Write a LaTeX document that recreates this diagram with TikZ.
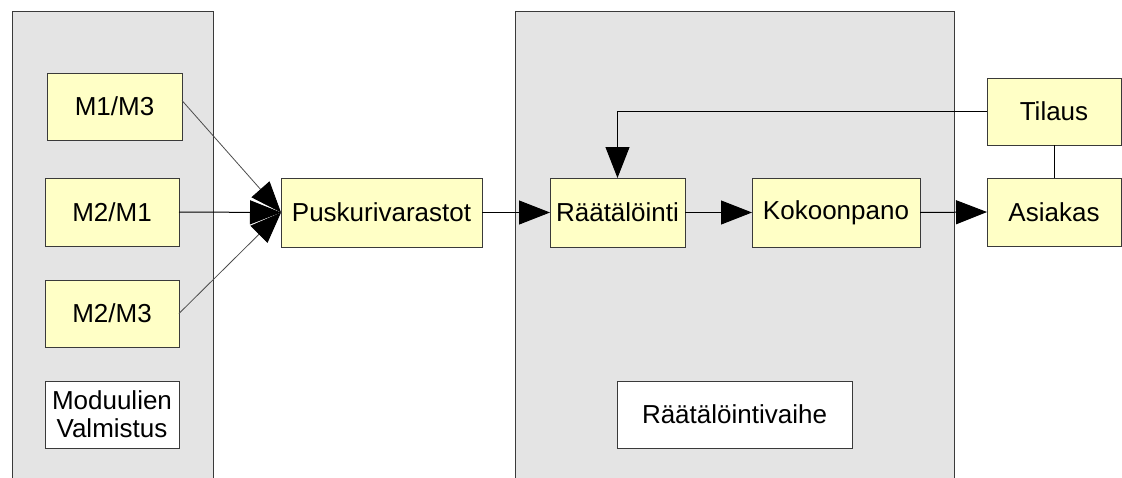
\documentclass[tikz,border=0pt]{standalone}
\usepackage{fontspec}
\setmainfont{Liberation Sans}
\usetikzlibrary{arrows.meta}
\definecolor{boxfill}{HTML}{FFFFC6}
\definecolor{panelfill}{HTML}{E4E4E4}
\definecolor{edge}{HTML}{3A3A3A}
\tikzset{
  stagebox/.style={draw=edge, line width=1pt, fill=boxfill, inner sep=0pt, outer sep=0pt,
    font=\fontsize{26pt}{28pt}\selectfont, align=center},
  labelbox/.style={stagebox, fill=white},
  panel/.style={fill=panelfill},
  paneledge/.style={draw=edge, line width=1pt},
  flow/.style={line width=1pt, -{Triangle[length=31pt,width=24pt]}},
  feed/.style={line width=0.8pt, draw=black!70, -{Triangle[length=31pt,width=24pt,color=black]}},
  plain/.style={line width=1pt}
}
\begin{document}
\begin{tikzpicture}[x=1pt,y=-1pt]
\useasboundingbox (0,0) rectangle (1122,477);
\clip (0,0) rectangle (1122,477);
% phase panels
\fill[panel] (12,11) rectangle (213,490);
\draw[paneledge] (12,490) -- (12,11) -- (213,11) -- (213,490);
\fill[panel] (515,11) rectangle (954,490);
\draw[paneledge] (515,490) -- (515,11) -- (954,11) -- (954,490);
% module production
\node[stagebox, minimum width=135pt, minimum height=67pt] (m13) at (114.5,106.5) {M1/M3};
\node[stagebox, minimum width=134pt, minimum height=68pt] (m21) at (112,212) {M2/M1};
\node[stagebox, minimum width=134pt, minimum height=67pt] (m23) at (112,313.5) {M2/M3};
\node[labelbox, minimum width=134pt, minimum height=67pt] (mv) at (112,414.5) {Moduulien\\Valmistus};
% buffer
\node[stagebox, minimum width=201pt, minimum height=69pt] (pusk) at (381.5,212.5) {Puskurivarastot};
% customization phase
\node[stagebox, minimum width=135pt, minimum height=69pt] (raat) at (617.5,212.5) {Räätälöinti};
\node[stagebox, minimum width=168pt, minimum height=69pt] (kok) at (836,212.5) {Kokoonpano};
\node[labelbox, minimum width=235pt, minimum height=67pt] (rv) at (734.5,414.5) {Räätälöintivaihe};
% customer side
\node[stagebox, minimum width=134pt, minimum height=67pt] (til) at (1054,111.5) {Tilaus};
\node[stagebox, minimum width=134pt, minimum height=68pt] (asi) at (1054,212) {Asiakas};
% connectors
\draw[feed] ([yshift=6pt]m13.east) -- (pusk.west);
\draw[flow] (m21.east) -- (pusk.west);
\draw[feed] (m23.east) -- (pusk.west);
\draw[flow] (pusk.east) -- (raat.west);
\draw[flow] (raat.east) -- (kok.west);
\draw[flow] (kok.east) -- (asi.west);
\draw[flow] (til.west) -| (raat.north);
\draw[plain] (til.south) -- (asi.north);
\end{tikzpicture}
\end{document}
